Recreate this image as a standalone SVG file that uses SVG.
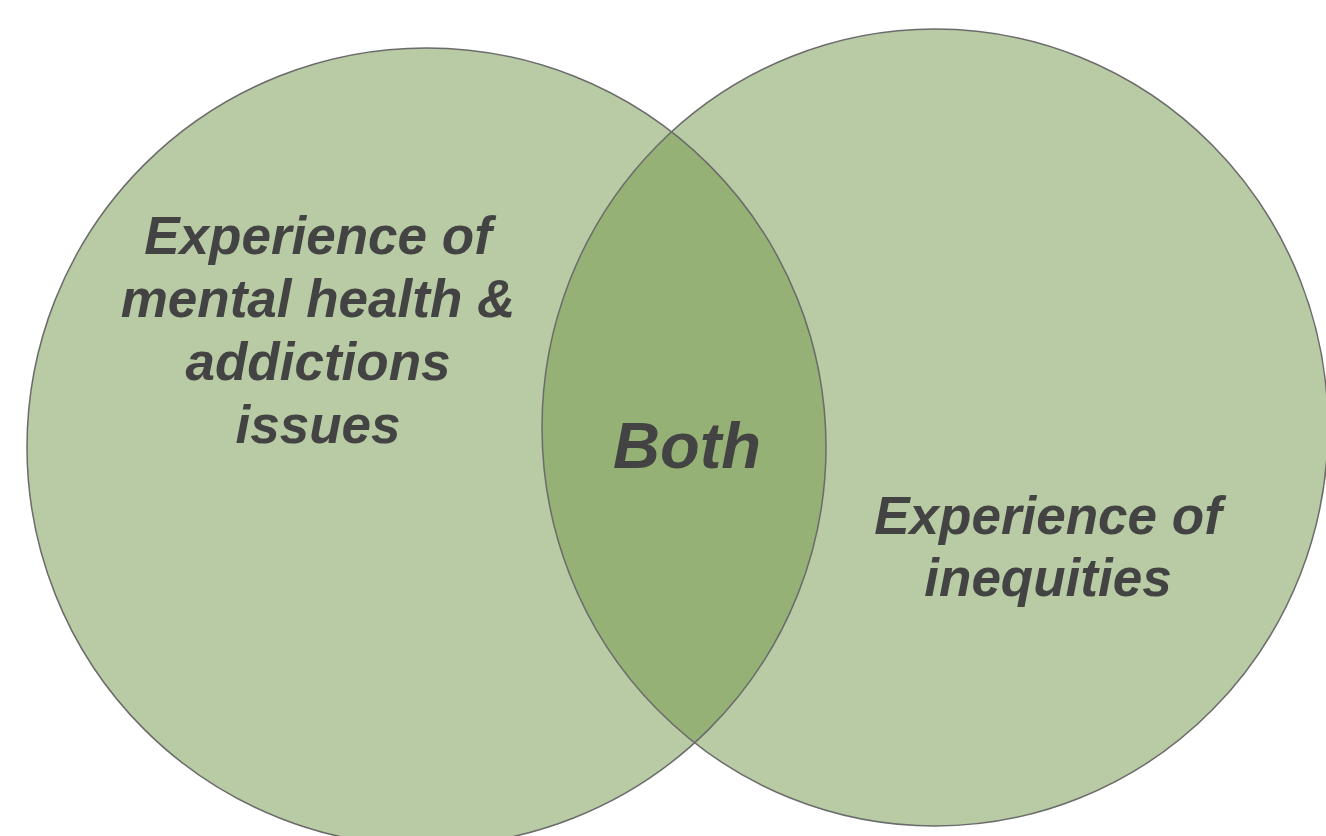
<svg xmlns="http://www.w3.org/2000/svg" width="1326" height="836" viewBox="0 0 1326 836">
  <style>
    .set { fill: #b8cba4; }
    .edge { fill: none; stroke: #6b6b6b; stroke-width: 1.5; }
    .both { fill: #95b175; }
    .lbl { font-family: "Liberation Sans", Arial, sans-serif; font-weight: bold; font-style: italic; fill: #434343; text-anchor: middle; }
  </style>
  <defs>
    <clipPath id="clipLeft">
      <ellipse cx="426.5" cy="447" rx="399.5" ry="399"/>
    </clipPath>
  </defs>
  <rect width="1326" height="836" fill="#ffffff"/>
  <g id="set-left">
    <ellipse class="set" cx="426.5" cy="447" rx="399.5" ry="399"/>
  </g>
  <g id="set-right">
    <ellipse class="set" cx="935" cy="427.5" rx="393" ry="398.5"/>
  </g>
  <g id="overlap">
    <ellipse class="both" cx="935" cy="427.5" rx="393" ry="398.5" clip-path="url(#clipLeft)"/>
  </g>
  <g id="outlines">
    <ellipse class="edge" cx="426.5" cy="447" rx="399.5" ry="399"/>
    <ellipse class="edge" cx="935" cy="427.5" rx="393" ry="398.5"/>
  </g>
  <g id="connectors"></g>
  <g id="label-left">
    <text class="lbl" font-size="53" x="318" y="254">Experience of</text>
    <text class="lbl" font-size="53" x="318" y="317">mental health &amp;</text>
    <text class="lbl" font-size="53" x="318" y="380">addictions</text>
    <text class="lbl" font-size="53" x="318" y="443">issues</text>
  </g>
  <g id="label-both">
    <text class="lbl" font-size="65" x="687" y="468">Both</text>
  </g>
  <g id="label-right">
    <text class="lbl" font-size="53" x="1048" y="534">Experience of</text>
    <text class="lbl" font-size="53" x="1048" y="596">inequities</text>
  </g>
</svg>
